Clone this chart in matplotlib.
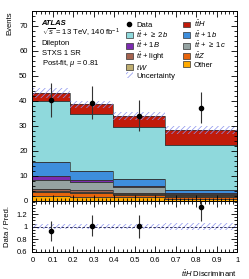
import matplotlib
matplotlib.use("Agg")
import matplotlib.pyplot as plt
import numpy as np
from matplotlib.patches import Patch
from matplotlib.lines import Line2D
from matplotlib.ticker import MultipleLocator

plt.rcParams["font.family"] = ["Liberation Sans", "DejaVu Sans"]
plt.rcParams["mathtext.fontset"] = "custom"
plt.rcParams["mathtext.rm"] = "Liberation Sans"
plt.rcParams["mathtext.it"] = "Liberation Sans:italic"
plt.rcParams["mathtext.bf"] = "Liberation Sans:bold"
plt.rcParams["hatch.linewidth"] = 0.5

# binning of the ttH discriminant
edges = np.array([0.0, 0.185, 0.395, 0.645, 1.0])

# stacked predictions, bottom to top
other = [1.8, 1.7, 1.4, 0.9]
ttz = [1.6, 1.4, 1.1, 0.8]
tw = [0.4, 0.4, 0.2, 0.2]
tt_light = [0.9, 0.8, 0.5, 0.5]
tt_ge1c = [3.7, 3.1, 2.2, 0.5]
tt_1B = [1.6, 0.9, 0.6, 0.3]
tt_1b = [5.4, 3.7, 2.6, 1.3]
tt_ge2b = [24.5, 22.8, 21.0, 17.8]
tth = [3.3, 3.8, 4.4, 6.0]

data = [40.3, 39.2, 34.1, 37.2]
data_err = [6.8, 6.6, 6.1, 6.2]
unc_rel = [0.045, 0.04, 0.045, 0.06]

samples = [
    (other, "Other", "#ffaa00"),
    (ttz, r"$t\bar{t}Z$", "#e8650c"),
    (tw, r"$tW$", "#bfae70"),
    (tt_light, r"$t\bar{t}$ + light", "#a5634f"),
    (tt_ge1c, r"$t\bar{t}$ + $\geq$ 1$c$", "#95a3a2"),
    (tt_1B, r"$t\bar{t}$ + 1$B$", "#7c2bb0"),
    (tt_1b, r"$t\bar{t}$ + 1$b$", "#3e8edc"),
    (tt_ge2b, r"$t\bar{t}$ + $\geq$ 2$b$", "#8fd9dc"),
    (tth, r"$t\bar{t}H$", "#c11b0a"),
]

fs = 5.5
hatch_col = "#8a92ee"
fig = plt.figure(figsize=(2.49, 2.79), dpi=100)
ax = fig.add_axes([0.130, 0.2796, 0.823, 0.681])
rax = fig.add_axes([0.130, 0.098, 0.823, 0.1816], sharex=ax)

handles = {}
bottom = np.zeros(len(edges) - 1)
for vals, label, color in samples:
    vals = np.array(vals)
    ax.stairs(bottom + vals, edges, baseline=bottom, fill=True, color=color)
    ax.stairs(bottom + vals, edges, baseline=bottom, fill=False,
              color="#333333", lw=0.5)
    handles[label] = Patch(facecolor=color, edgecolor="#333333", lw=0.5, label=label)
    bottom = bottom + vals
total = bottom

# uncertainty band
unc = total * np.array(unc_rel)
ax.stairs(total + unc, edges, baseline=total - unc, fill=True,
          facecolor="none", edgecolor=hatch_col, hatch="//////", lw=0)
centers = 0.5 * (edges[:-1] + edges[1:])
ax.errorbar(centers, data, yerr=data_err, fmt="o", color="black",
            ms=3, lw=0.8, ecolor="#333333", capsize=0)

ax.set_xlim(0, 1)
ax.set_ylim(0, 76)
ax.set_ylabel("Events", loc="top", fontsize=fs)
ax.yaxis.set_major_locator(MultipleLocator(10))
ax.yaxis.set_minor_locator(MultipleLocator(2))
ax.xaxis.set_major_locator(MultipleLocator(0.1))
ax.xaxis.set_minor_locator(MultipleLocator(0.02))
plt.setp(ax.get_xticklabels(), visible=False)

# labels
ax.text(0.045, 0.935, "ATLAS", transform=ax.transAxes, fontsize=fs,
        fontweight="bold", fontstyle="italic", va="center")
info = [r"$\sqrt{s}$ = 13 TeV, 140 fb$^{-1}$", "Dilepton", "STXS 1 SR",
        r"Post-fit, $\mu$ = 0.81"]
for i, line in enumerate(info):
    ax.text(0.045, 0.935 - (i + 1) * 0.053, line, transform=ax.transAxes,
            fontsize=fs, va="center")

unc_handle = Patch(facecolor="none", edgecolor=hatch_col, hatch="//////",
                   lw=0, label="Uncertainty")
data_handle = Line2D([], [], marker="o", color="black", ms=3, lw=0, label="Data")
order = [data_handle, handles[r"$t\bar{t}$ + $\geq$ 2$b$"],
         handles[r"$t\bar{t}$ + 1$B$"], handles[r"$t\bar{t}$ + light"],
         handles[r"$tW$"], unc_handle,
         handles[r"$t\bar{t}H$"], handles[r"$t\bar{t}$ + 1$b$"],
         handles[r"$t\bar{t}$ + $\geq$ 1$c$"], handles[r"$t\bar{t}Z$"],
         handles["Other"]]
ax.legend(handles=order, ncol=2, fontsize=fs, frameon=False,
          loc="upper left", bbox_to_anchor=(0.44, 0.975),
          handlelength=0.95, handleheight=0.8, handletextpad=0.45,
          columnspacing=1.0, labelspacing=0.02, borderaxespad=0)

# ratio panel
ratio = np.array(data) / total
ratio_err = np.array(data_err) / total
rax.stairs(1 + np.array(unc_rel), edges, baseline=1 - np.array(unc_rel),
           fill=True, facecolor="none", edgecolor=hatch_col, hatch="//////", lw=0)
rax.axhline(1, color="#1a1a4a", lw=0.6, ls=(0, (3, 2)))
rax.errorbar(centers, ratio, yerr=ratio_err, fmt="o", color="black",
             ms=3, lw=0.8, ecolor="#333333", capsize=0)
rax.set_ylim(0.6, 1.41)
rax.set_yticks([0.6, 0.8, 1.0, 1.2])
rax.set_yticklabels(["0.6", "0.8", "1", "1.2"])
rax.yaxis.set_minor_locator(MultipleLocator(0.05))
rax.set_xticks(np.arange(0, 1.01, 0.1))
rax.set_xticklabels(["0", "0.1", "0.2", "0.3", "0.4", "0.5", "0.6", "0.7",
                     "0.8", "0.9", "1"])
rax.set_ylabel("Data / Pred.", fontsize=fs)
rax.set_xlabel(r"$t\bar{t}H$ Discriminant", loc="right", fontsize=fs)

for a in (ax, rax):
    a.tick_params(which="both", direction="in", top=True, right=True,
                  labelsize=fs, width=0.6)
    a.tick_params(which="major", length=4)
    a.tick_params(which="minor", length=2)
    for s in a.spines.values():
        s.set_linewidth(0.7)

fig.savefig("out.png", dpi=100)
